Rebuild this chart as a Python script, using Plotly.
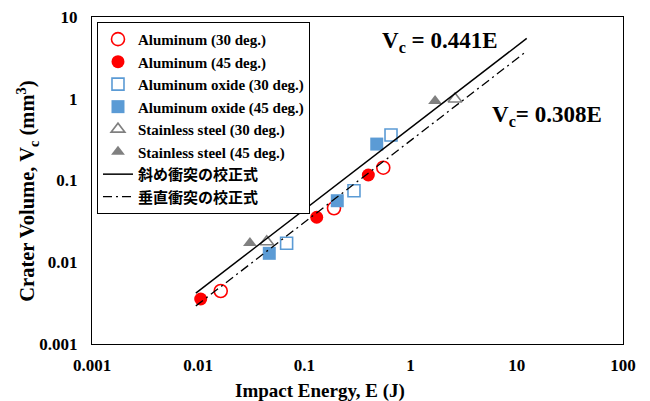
import plotly.graph_objects as go

# ---- data ----
al30_E = [0.0163, 0.19, 0.553]
al30_V = [0.00445, 0.0457, 0.1435]
al45_E = [0.01056, 0.1306, 0.40]
al45_V = [0.00355, 0.0355, 0.1167]
ox30_E = [0.068, 0.293, 0.654]
ox30_V = [0.01706, 0.075, 0.36]
ox45_E = [0.0467, 0.204, 0.48]
ox45_V = [0.01286, 0.0566, 0.279]
ss30_E = [0.0442, 2.62]
ss30_V = [0.0178, 0.993]
ss45_E = [0.0307, 1.70]
ss45_V = [0.0172, 0.938]

fit_E = [0.0095, 12.4]
oblique_coef = 0.441
normal_coef = 0.308

x_tickvals = [0.001, 0.01, 0.1, 1, 10, 100]
x_ticktext = ["0.001", "0.01", "0.1", "1", "10", "100"]
y_tickvals = [0.001, 0.01, 0.1, 1, 10]
y_ticktext = ["0.001", "0.01", "0.1", "1", "10"]

FONT = "Liberation Serif, Times New Roman, Noto Sans CJK JP"
RED = "#FF0000"
BLUE = "#5B9BD5"
GRAY = "#808080"

fig = go.Figure()

def add_pts(E, V, name, symbol, color, filled, size):
    fig.add_trace(go.Scatter(
        x=E, y=V, mode="markers", name=name,
        marker=dict(symbol=symbol, size=size,
                    color=color if filled else "white",
                    line=dict(color=color, width=1.6 if not filled else 0)),
    ))

add_pts(al30_E, al30_V, "Aluminum (30 deg.)", "circle", RED, False, 13)
add_pts(al45_E, al45_V, "Aluminum (45 deg.)", "circle", RED, True, 13)
add_pts(ox30_E, ox30_V, "Aluminum oxide (30 deg.)", "square", BLUE, False, 12)
add_pts(ox45_E, ox45_V, "Aluminum oxide (45 deg.)", "square", BLUE, True, 13)
add_pts(ss30_E, ss30_V, "Stainless steel (30 deg.)", "triangle-up", GRAY, False, 12)
add_pts(ss45_E, ss45_V, "Stainless steel (45 deg.)", "triangle-up", GRAY, True, 12)

fig.add_trace(go.Scatter(
    x=fit_E, y=[oblique_coef * e for e in fit_E], mode="lines",
    name="斜め衝突の校正式", line=dict(color="black", width=1.5)))
fig.add_trace(go.Scatter(
    x=fit_E, y=[normal_coef * e for e in fit_E], mode="lines",
    name="垂直衝突の校正式", line=dict(color="black", width=1.3, dash="9px,4px,2px,4px")))

axis_common = dict(
    type="log", showline=True, mirror=True, linecolor="black", linewidth=1,
    showgrid=False, zeroline=False, ticks="", automargin=False,
    ticklabeloverflow="allow",
    tickfont=dict(family=FONT, size=17, color="black", weight="bold"),
)

fig.update_xaxes(range=[-3, 2], tickvals=x_tickvals, ticktext=x_ticktext,
                 ticklabelstandoff=6, **axis_common)
fig.update_yaxes(range=[-3, 1], tickvals=y_tickvals, ticktext=y_ticktext,
                 ticklabelstandoff=10, **axis_common)

def ann(text, x, y, size, angle=0):
    return dict(text=text, xref="paper", yref="paper", x=x, y=y,
                xanchor="center", yanchor="middle", showarrow=False,
                textangle=angle, font=dict(family=FONT, size=size, weight="bold"))

fig.update_layout(
    width=650, height=401,
    margin=dict(l=84, r=35, t=9, b=65, autoexpand=False),
    paper_bgcolor="white", plot_bgcolor="white",
    font=dict(family=FONT, color="black"),
    legend=dict(x=0.0094, y=0.985, xanchor="left", yanchor="top",
                bordercolor="black", borderwidth=1, bgcolor="white",
                font=dict(family=FONT, size=15, color="black", weight="bold"),
                tracegroupgap=0),
    annotations=[
        ann("V<sub>c</sub> = 0.441E", 0.655, 0.925, 23),
        ann("V<sub>c</sub>= 0.308E", 0.857, 0.698, 23),
        ann("Impact Energy, E (J)", 0.429, -0.144, 19),
        ann("Crater Volume, V<sub>c</sub> (mm<sup>3</sup>)", -0.121, 0.468, 20.5, -90),
    ],
)

fig.write_html("out.html")
